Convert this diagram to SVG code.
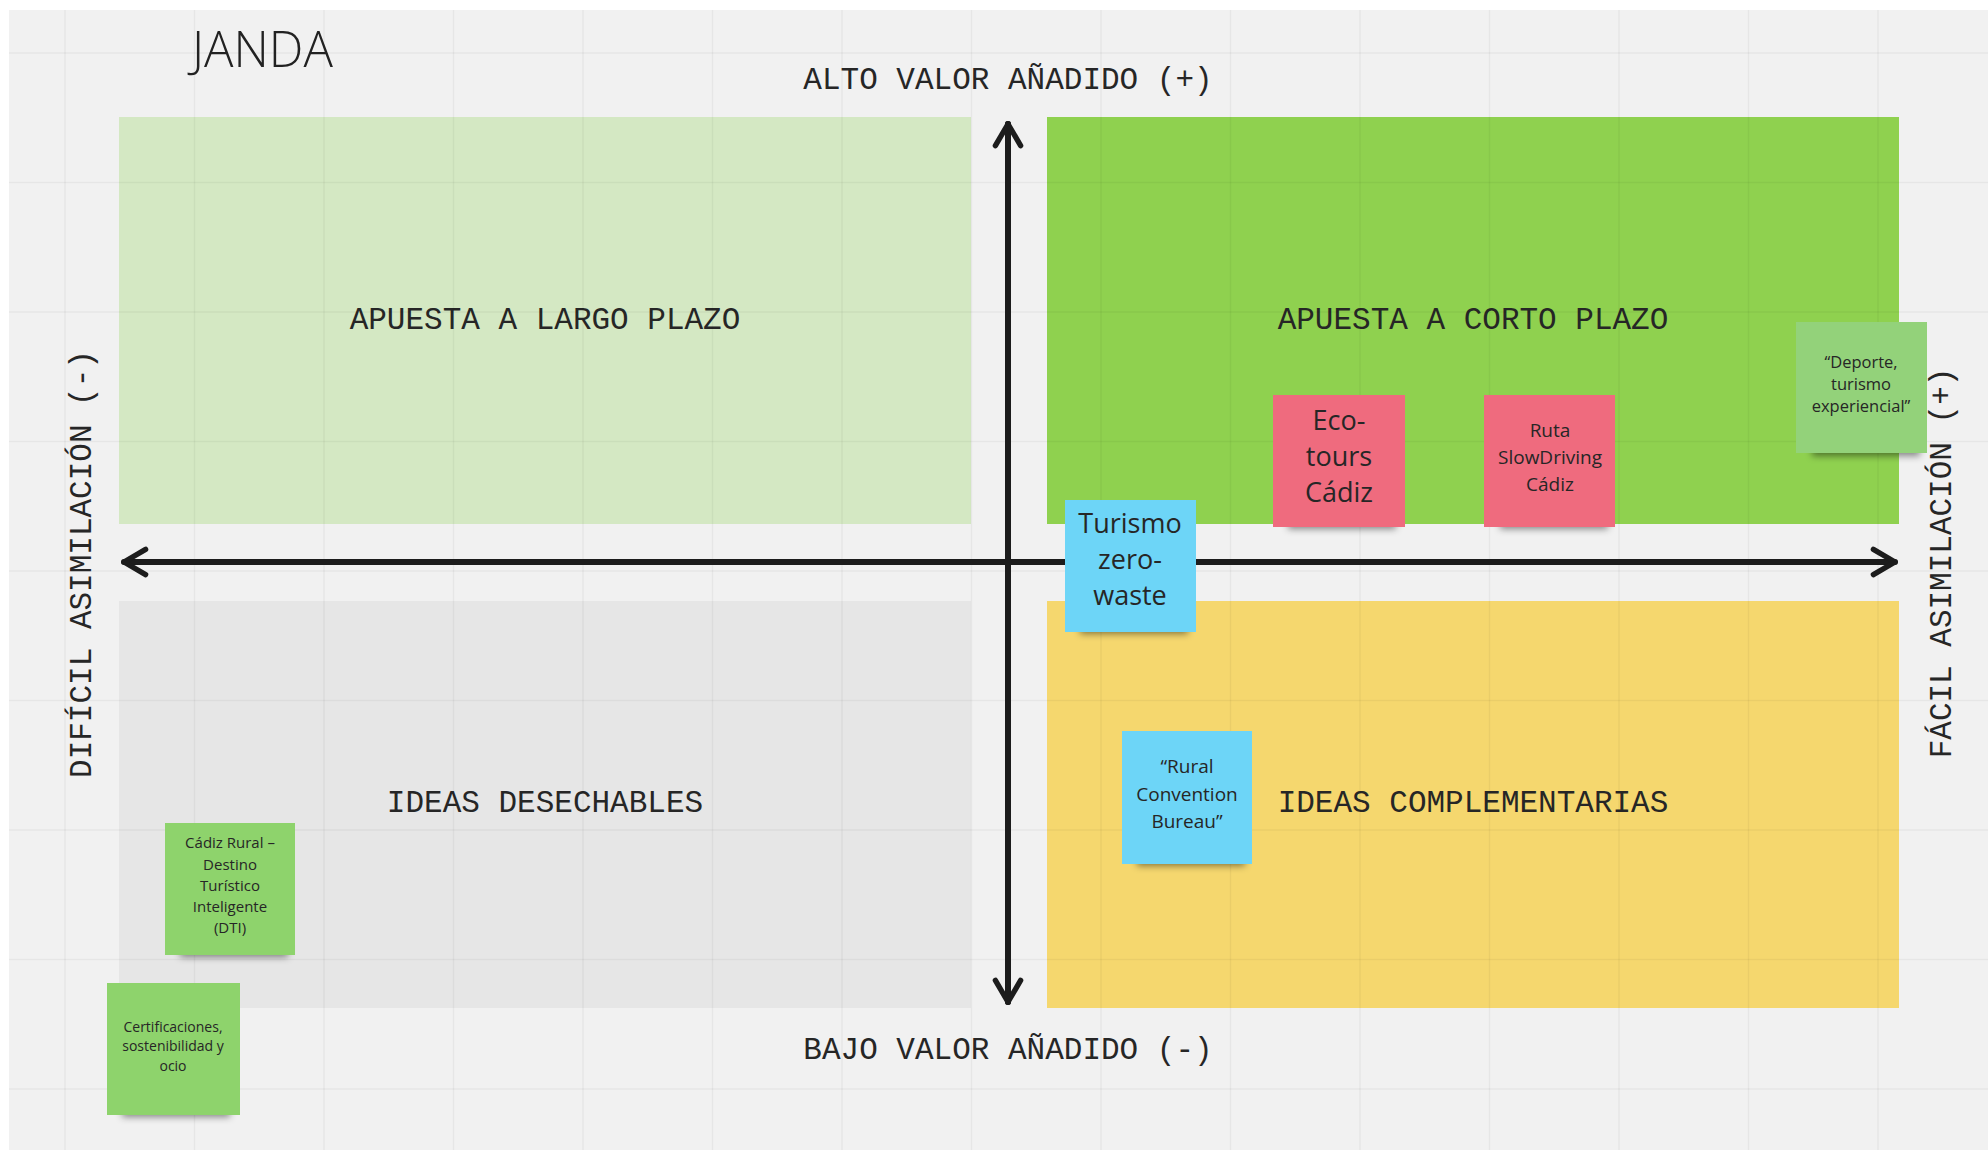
<svg xmlns="http://www.w3.org/2000/svg" width="1988" height="1155" viewBox="0 0 1988 1155">
<defs>
<style>
.mono{font-family:"Liberation Mono","DejaVu Sans Mono",monospace;fill:#262626;}
.ax{font-size:31px;text-anchor:middle;}
.ql{font-size:31px;text-anchor:middle;}
.note{font-family:"Open Sans","Noto Sans",sans-serif;fill:#262626;text-anchor:middle;}
.grid line{stroke:#000;stroke-opacity:0.045;stroke-width:1.5;}
.axis{stroke:#1c1c1c;stroke-width:6;fill:none;stroke-linecap:round;stroke-linejoin:round;}
.shadow{fill:#000;fill-opacity:0.45;filter:url(#blur);}
</style>
<filter id="blur" x="-20%" y="-100%" width="140%" height="300%"><feGaussianBlur stdDeviation="3.5"/></filter>
<marker id="head" viewBox="0 0 20 20" refX="16" refY="10" markerWidth="6" markerHeight="6" markerUnits="strokeWidth" orient="auto-start-reverse">
<path d="M4,3 L16,10 L4,17" fill="none" stroke="#1c1c1c" stroke-width="3" stroke-linecap="round" stroke-linejoin="round"/>
</marker>
</defs>
<rect x="0" y="0" width="1988" height="1155" fill="#ffffff"/>
<rect x="9" y="10" width="1979" height="1140" fill="#f1f1f1"/>

<g id="quadrants">
<g id="q-largo"><rect x="119" y="117" width="852" height="407" fill="#d4e8c3"/><text class="mono ql" x="545" y="329">APUESTA A LARGO PLAZO</text></g>
<g id="q-corto"><rect x="1047" y="117" width="852" height="407" fill="#8fd14f"/><text class="mono ql" x="1473" y="329">APUESTA A CORTO PLAZO</text></g>
<g id="q-desechables"><rect x="119" y="601" width="852" height="407" fill="#e6e6e6"/><text class="mono ql" x="545" y="812">IDEAS DESECHABLES</text></g>
<g id="q-complementarias"><rect x="1047" y="601" width="852" height="407" fill="#f5d76e"/><text class="mono ql" x="1473" y="812">IDEAS COMPLEMENTARIAS</text></g>
</g>

<g class="grid">
<line x1="65" y1="10" x2="65" y2="1150"/><line x1="194.5" y1="10" x2="194.5" y2="1150"/><line x1="324" y1="10" x2="324" y2="1150"/><line x1="453.5" y1="10" x2="453.5" y2="1150"/><line x1="583" y1="10" x2="583" y2="1150"/><line x1="712.5" y1="10" x2="712.5" y2="1150"/><line x1="842" y1="10" x2="842" y2="1150"/><line x1="971.5" y1="10" x2="971.5" y2="1150"/><line x1="1101" y1="10" x2="1101" y2="1150"/><line x1="1230.5" y1="10" x2="1230.5" y2="1150"/><line x1="1360" y1="10" x2="1360" y2="1150"/><line x1="1489.5" y1="10" x2="1489.5" y2="1150"/><line x1="1619" y1="10" x2="1619" y2="1150"/><line x1="1748.5" y1="10" x2="1748.5" y2="1150"/><line x1="1878" y1="10" x2="1878" y2="1150"/>
<line x1="9" y1="53" x2="1988" y2="53"/><line x1="9" y1="182.5" x2="1988" y2="182.5"/><line x1="9" y1="312" x2="1988" y2="312"/><line x1="9" y1="441.5" x2="1988" y2="441.5"/><line x1="9" y1="571" x2="1988" y2="571"/><line x1="9" y1="700.5" x2="1988" y2="700.5"/><line x1="9" y1="830" x2="1988" y2="830"/><line x1="9" y1="959.5" x2="1988" y2="959.5"/><line x1="9" y1="1089" x2="1988" y2="1089"/>
</g>

<g id="title"><text x="192" y="67" font-family="'Open Sans','Noto Sans',sans-serif" font-weight="300" font-size="49" fill="#222">JANDA</text></g>

<g id="axis-labels">
<text class="mono ax" x="1008" y="89">ALTO VALOR AÑADIDO (+)</text>
<text class="mono ax" x="1008" y="1059">BAJO VALOR AÑADIDO (-)</text>
<text class="mono ax" transform="translate(91,564) rotate(-90)">DIFÍCIL ASIMILACIÓN (-)</text>
<text class="mono ax" transform="translate(1951,563) rotate(-90)">FÁCIL ASIMILACIÓN (+)</text>
</g>

<g id="connectors">
<line class="axis" x1="1008" y1="1002" x2="1008" y2="124" marker-end="url(#head)"/>
<line class="axis" x1="1008" y1="124" x2="1008" y2="1002" marker-end="url(#head)"/>
<line class="axis" x1="124" y1="562" x2="1895" y2="562" marker-end="url(#head)" marker-start="url(#head)"/>
</g>

<g id="note-ecotours">
<rect class="shadow" x="1288" y="517" width="108" height="12"/>
<rect x="1273" y="395" width="132" height="132" fill="#ef6b7e"/>
<text class="note" font-size="27" x="1339"><tspan x="1339" y="430">Eco-</tspan><tspan x="1339" y="466">tours</tspan><tspan x="1339" y="502">Cádiz</tspan></text>
</g>
<g id="note-slowdriving">
<rect class="shadow" x="1500" y="517" width="108" height="12"/>
<rect x="1484" y="395" width="131" height="132" fill="#ef6b7e"/>
<text class="note" font-size="19" x="1550"><tspan x="1550" y="437">Ruta</tspan><tspan x="1550" y="464">SlowDriving</tspan><tspan x="1550" y="491">Cádiz</tspan></text>
</g>
<g id="note-deporte">
<rect class="shadow" x="1812" y="444" width="108" height="12"/>
<rect x="1796" y="322" width="131" height="131" fill="#93d27a"/>
<text class="note" font-size="16.5" x="1861"><tspan x="1861" y="368">“Deporte,</tspan><tspan x="1861" y="390">turismo</tspan><tspan x="1861" y="412">experiencial”</tspan></text>
</g>
<g id="note-zerowaste">
<rect class="shadow" x="1080" y="622" width="108" height="12"/>
<rect x="1065" y="500" width="131" height="132" fill="#6dd5f7"/>
<text class="note" font-size="27" x="1130"><tspan x="1130" y="533">Turismo</tspan><tspan x="1130" y="569">zero-</tspan><tspan x="1130" y="605">waste</tspan></text>
</g>
<g id="note-convention">
<rect class="shadow" x="1137" y="854" width="108" height="12"/>
<rect x="1122" y="731" width="130" height="133" fill="#6dd5f7"/>
<text class="note" font-size="19" x="1187"><tspan x="1187" y="773">“Rural</tspan><tspan x="1187" y="801">Convention</tspan><tspan x="1187" y="828">Bureau”</tspan></text>
</g>
<g id="note-dti">
<rect class="shadow" x="180" y="945" width="108" height="12"/>
<rect x="165" y="823" width="130" height="132" fill="#8ed36c"/>
<text class="note" font-size="15" x="230"><tspan x="230" y="848">Cádiz Rural –</tspan><tspan x="230" y="870">Destino</tspan><tspan x="230" y="891">Turístico</tspan><tspan x="230" y="912">Inteligente</tspan><tspan x="230" y="933">(DTI)</tspan></text>
</g>
<g id="note-certificaciones">
<rect class="shadow" x="122" y="1105" width="108" height="12"/>
<rect x="107" y="983" width="133" height="132" fill="#8ed36c"/>
<text class="note" font-size="14" x="173"><tspan x="173" y="1032">Certificaciones,</tspan><tspan x="173" y="1051">sostenibilidad y</tspan><tspan x="173" y="1071">ocio</tspan></text>
</g>
</svg>
